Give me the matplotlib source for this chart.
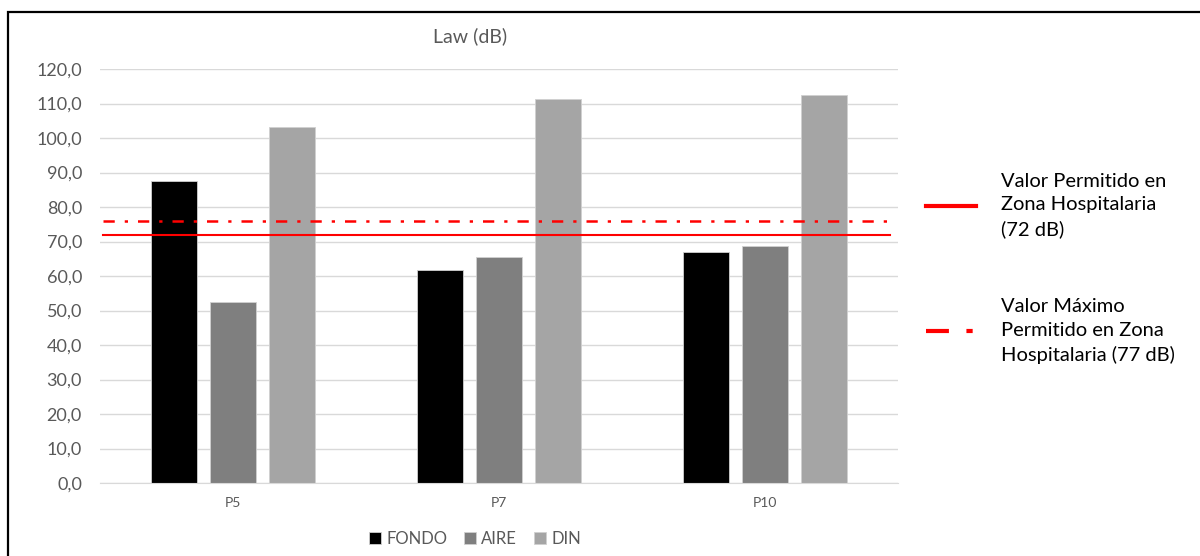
import matplotlib
matplotlib.use('Agg')
import matplotlib.pyplot as plt
import numpy as np
from matplotlib.lines import Line2D
from matplotlib.patches import Rectangle

plt.rcParams['font.family'] = ['Lato', 'DejaVu Sans']

points = ['P5', 'P7', 'P10']
fondo = [87.5, 61.7, 67.0]
aire = [52.5, 65.5, 68.7]
din = [103.2, 111.3, 112.5]
valor_permitido = 72.0
valor_maximo = 76.0

series_names = ['FONDO', 'AIRE', 'DIN']
series_colors = ['#000000', '#7f7f7f', '#a5a5a5']
yticks = np.arange(0, 121, 10)

fig = plt.figure(figsize=(12, 5.56), dpi=100)
ax = fig.add_axes([100 / 1200, 73 / 556, 798 / 1200, 414 / 556])

x = np.arange(len(points))
width = 0.173
offset = 0.222
bars = []
for i, (vals, name, col) in enumerate(zip([fondo, aire, din], series_names, series_colors)):
    b = ax.bar(x + (i - 1) * offset, vals, width, color=col, label=name,
               edgecolor='#d0d0d0', linewidth=0.6, zorder=2)
    bars.append(b)

ax.axhline(valor_permitido, xmin=0.004, xmax=0.99, color='#ff0000', lw=1.5, zorder=3)
ax.axhline(valor_maximo, xmin=0.004, xmax=0.99, color='#ff0000', lw=1.8,
           dashes=(4.5, 4, 1.3, 4), dash_capstyle='butt', zorder=3)

ax.set_xlim(-0.5, 2.5)
ax.set_ylim(0, 120)
ax.set_yticks(yticks)
ax.set_yticklabels([f'{v:.1f}'.replace('.', ',') for v in yticks])
ax.set_xticks(x)
ax.set_xticklabels(points)
ax.grid(axis='y', color='#d9d9d9', lw=1, zorder=0)
ax.set_axisbelow(True)
for s in ['top', 'right', 'left']:
    ax.spines[s].set_visible(False)
ax.spines['bottom'].set_color('#d9d9d9')
ax.tick_params(axis='both', length=0, colors='#595959')
ax.tick_params(axis='y', labelsize=13, pad=13)
ax.tick_params(axis='x', labelsize=10, pad=10)

fig.text(470 / 1200, 1 - 36 / 556, 'Law (dB)', ha='center', va='center',
         fontsize=14, color='#595959')

ax.legend(handles=bars, loc='center', bbox_to_anchor=(475 / 1200, 1 - 539 / 556),
          bbox_transform=fig.transFigure, ncol=3, frameon=False, fontsize=12,
          handlelength=0.75, handleheight=0.75, handletextpad=0.3, columnspacing=1.0,
          labelcolor='#595959')

line_handles = [
    Line2D([], [], color='#ff0000', lw=3),
    Line2D([], [], color='#ff0000', lw=3, dashes=(5.5, 4.2, 1.5, 4), dash_capstyle='butt'),
]
line_labels = ['Valor Permitido en\nZona Hospitalaria\n(72 dB)',
               'Valor Máximo\nPermitido en Zona\nHospitalaria (77 dB)']
leg = fig.legend(handles=line_handles, labels=line_labels, loc='upper left',
                 bbox_to_anchor=(908 / 1200, 1 - 155 / 556), frameon=False, fontsize=14.5,
                 handlelength=2.5, handletextpad=1.2, labelspacing=3.0)
for t in leg.get_texts():
    t.set_linespacing(1.45)

fig.add_artist(Rectangle((8 / 1200, -0.05), 1.1, 1 - 12 / 556 + 0.05,
                         transform=fig.transFigure, fill=False, edgecolor='black', lw=1.6))

fig.savefig('out.png', dpi=100)
